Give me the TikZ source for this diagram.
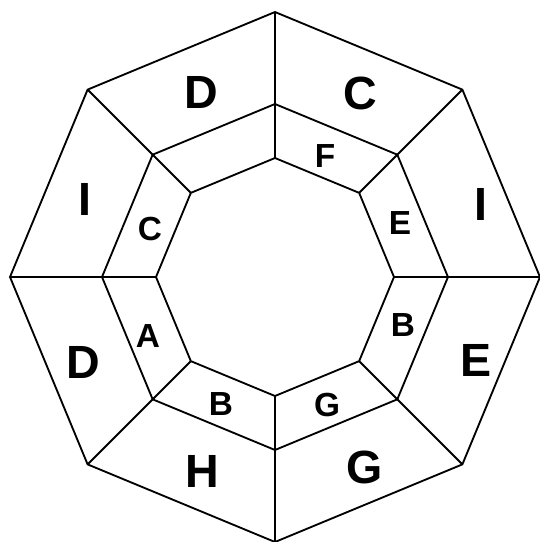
\documentclass[tikz,border=0pt]{standalone}
\usepackage{fontspec}
\setsansfont{Liberation Sans}

\begin{document}
\begin{tikzpicture}[font=\sffamily\bfseries]
  \tikzset{
    edge/.style={black,line width=1.05pt,line join=miter},
    bigcell/.style={inner sep=0pt,font=\sffamily\bfseries\fontsize{26.5}{26.5}\selectfont},
    smallcell/.style={inner sep=0pt,font=\sffamily\bfseries\fontsize{19}{19}\selectfont}
  }
  \useasboundingbox (-5.5,-5.3) rectangle (5.3,5.54);

  % Corners of the three octagons.
  \foreach \k in {0,...,7}{
    \coordinate (O\k) at (90-45*\k:5.3);
    \coordinate (M\k) at (90-45*\k:3.46);
    \coordinate (N\k) at (90-45*\k:2.38);
  }
  \draw[edge] (O0)--(O1)--(O2)--(O3)--(O4)--(O5)--(O6)--(O7)--cycle;
  \draw[edge] (M0)--(M1)--(M2)--(M3)--(M4)--(M5)--(M6)--(M7)--cycle;
  \draw[edge] (N0)--(N1)--(N2)--(N3)--(N4)--(N5)--(N6)--(N7)--cycle;
  \foreach \k in {0,...,7}
    \draw[edge] (O\k)--(M\k)--(N\k);

  % Outer ring.
  \node[bigcell] (oD) at (-1.48,3.70) {D};
  \node[bigcell] (oC) at (1.70,3.68) {C};
  \node[bigcell] (oIr) at (4.12,1.46) {I};
  \node[bigcell] (oE) at (4.02,-1.66) {E};
  \node[bigcell] (oG) at (1.80,-3.80) {G};
  \node[bigcell] (oH) at (-1.46,-3.88) {H};
  \node[bigcell] (oDl) at (-3.84,-1.70) {D};
  \node[bigcell] (oIl) at (-3.80,1.56) {I};

  % Middle ring.
  \node[smallcell] (mF) at (1.00,2.42) {F};
  \node[smallcell] (mE) at (2.50,1.08) {E};
  \node[smallcell] (mBr) at (2.56,-0.96) {B};
  \node[smallcell] (mG) at (1.04,-2.56) {G};
  \node[smallcell] (mBb) at (-1.08,-2.54) {B};
  \node[smallcell] (mA) at (-2.54,-1.18) {A};
  \node[smallcell] (mC) at (-2.50,0.96) {C};
\end{tikzpicture}
\end{document}
